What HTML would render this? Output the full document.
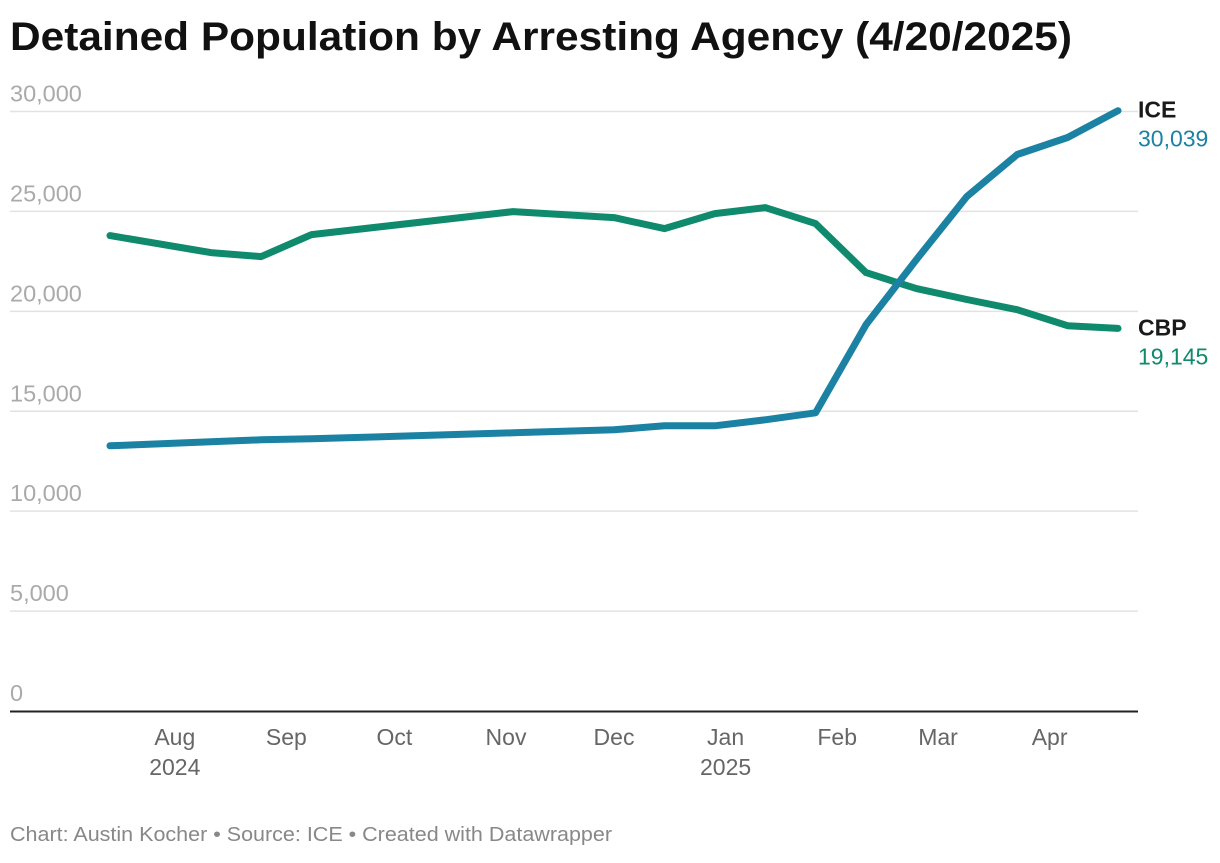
<!DOCTYPE html>
<html><head><meta charset="utf-8">
<style>
html,body{margin:0;padding:0;background:#fff;}
body{width:1220px;height:858px;overflow:hidden;font-family:"Liberation Sans",sans-serif;}
svg text{font-family:"Liberation Sans",sans-serif;}
</style></head>
<body>
<svg id="chart" width="1220" height="858" xmlns="http://www.w3.org/2000/svg">
<text x="10" y="50" font-size="40" font-weight="bold" fill="#111" textLength="1062" lengthAdjust="spacingAndGlyphs">Detained Population by Arresting Agency (4/20/2025)</text>
<g id="grid"></g>
<g id="lines"></g>
<text x="10" y="841" font-size="20" fill="#888" textLength="602" lengthAdjust="spacingAndGlyphs">Chart: Austin Kocher • Source: ICE • Created with Datawrapper</text>
</svg>
<script>
const dates = ["2024-07-14","2024-08-11","2024-08-25","2024-09-08","2024-11-03","2024-12-01","2024-12-15","2024-12-29","2025-01-12","2025-01-26","2025-02-09","2025-02-23","2025-03-09","2025-03-23","2025-04-06","2025-04-20"];
const iceValues = [13270,13470,13570,13620,13920,14070,14270,14270,14570,14920,19330,22590,25740,27850,28700,30039];
const cbpValues = [23790,22940,22740,23840,24990,24690,24140,24890,25190,24390,21940,21140,20590,20080,19280,19145];
const yTicks = [0,5000,10000,15000,20000,25000,30000];
const yTickLabels = ["0","5,000","10,000","15,000","20,000","25,000","30,000"];
const xTickDates = ["2024-08-01","2024-09-01","2024-10-01","2024-11-01","2024-12-01","2025-01-01","2025-02-01","2025-03-01","2025-04-01"];
const xTickLabels = ["Aug","Sep","Oct","Nov","Dec","Jan","Feb","Mar","Apr"];
const xTickYears = ["2024","","","","","2025","","",""];

const NS="http://www.w3.org/2000/svg";
const t0=Date.parse("2024-07-14"), t1=Date.parse("2025-04-20");
function xs(d){return 110+(Date.parse(d)-t0)/(t1-t0)*1008;}
function ys(v){return 711-v/30000*599.5;}
function mk(tag,attrs,parent){const e=document.createElementNS(NS,tag);for(const k in attrs)e.setAttribute(k,attrs[k]);parent.appendChild(e);return e;}
const grid=document.getElementById('grid'), lines=document.getElementById('lines');
yTicks.forEach((v,i)=>{
  if(v>0){
    const l=mk('line',{x1:10,x2:1138,y1:ys(v),y2:ys(v),stroke:'#e2e2e2','stroke-width':1.5},grid);
    
    
  }
  const t=mk('text',{x:10,y:ys(v)-10,'font-size':23.5,fill:'#aaa'},grid);
  t.textContent=yTickLabels[i];
  
  
});
const ax=mk('line',{x1:10,x2:1138,y1:711.5,y2:711.5,stroke:'#222','stroke-width':2},grid);


xTickDates.forEach((d,i)=>{
  const t=mk('text',{x:xs(d),y:745,'font-size':23,fill:'#666','text-anchor':'middle'},grid);
  t.textContent=xTickLabels[i];
  
  
  if(xTickYears[i]){
    const y=mk('text',{x:xs(d),y:775,'font-size':23,fill:'#666','text-anchor':'middle'},grid);
    y.textContent=xTickYears[i];
    
    
  }
});
function drawLine(vals,color,name){
  const d=vals.map((v,i)=>(i?'L':'M')+xs(dates[i]).toFixed(1)+','+ys(v).toFixed(1)).join(' ');
  const p=mk('path',{d:d,fill:'none',stroke:color,'stroke-width':7,'stroke-linejoin':'round','stroke-linecap':'round'},lines);
  
  
}
drawLine(cbpValues,'#0f8a6c','cbp-line');
drawLine(iceValues,'#1c82a3','ice-line');
function label(name,val,color,key){
  const yy=ys(val);
  const a=mk('text',{x:1138,y:yy+7,'font-size':23,'font-weight':'bold',fill:'#1a1a1a'},lines);
  a.textContent=name;
  
  
  const b=mk('text',{x:1138,y:yy+36,'font-size':23,fill:color},lines);
  b.textContent=val.toLocaleString('en-US');
  
  
}
label('ICE',iceValues[iceValues.length-1],'#1c82a3','ice');
label('CBP',cbpValues[cbpValues.length-1],'#0f8a6c','cbp');
</script>
</body></html>
